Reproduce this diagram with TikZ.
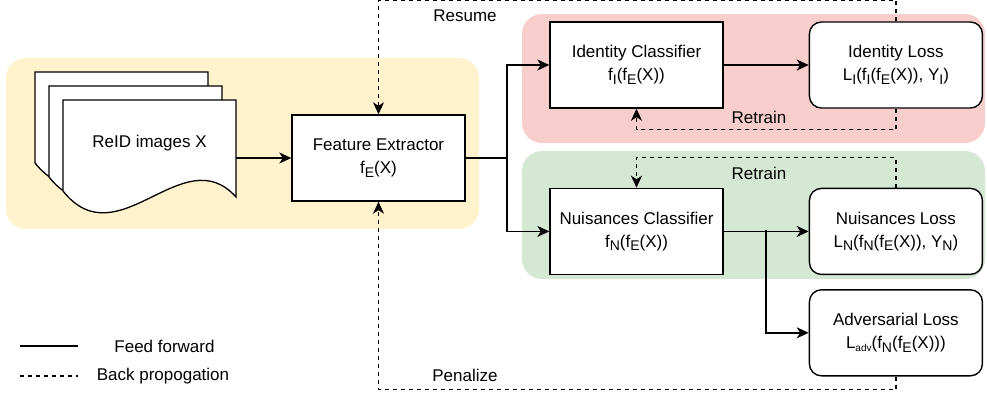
\documentclass[tikz,border=0pt]{standalone}
\usepackage{fontspec}
\setmainfont{Liberation Sans}
\usetikzlibrary{positioning,arrows.meta}

\definecolor{bgyellow}{HTML}{FFF2CC}
\definecolor{bgred}{HTML}{F8CECC}
\definecolor{bggreen}{HTML}{D5E8D4}
\newcommand{\lsub}[1]{\raisebox{-3.5pt}{\fontsize{14}{14}\selectfont #1}}

\begin{document}
\begin{tikzpicture}[x=1pt,y=-1pt,
        font=\fontsize{17}{23}\selectfont,
        box/.style={draw,line width=1.4pt,fill=white,minimum width=173pt,minimum height=86pt,align=center,inner sep=0pt},
        lossbox/.style={box,rounded corners=12pt},
        page/.style={draw,line width=1.3pt,fill=white},
        fwd/.style={line width=1.4pt,-{Stealth[length=12pt,width=11pt,inset=3.5pt]}},
        back/.style={fwd,line width=1.3pt,dash pattern=on 4pt off 4pt}]
        \useasboundingbox (0,0) rectangle (987,394);

        % groups
        \fill[bgyellow,rounded corners=20pt] (6,58) rectangle (479,229);
        \fill[bgred,rounded corners=20pt] (522,14) rectangle (985,143);
        \fill[bggreen,rounded corners=20pt] (522,151) rectangle (985,279);

        % stack of images
        \foreach \d in {0,14,28}
            \draw[page,shift={(35+\d,72+\d)}] (0,0) -- (173,0) -- (173,97) .. controls (120,38) and (55,160) .. (0,91) -- cycle;
        \node (docs) [minimum width=173pt,minimum height=84pt,inner sep=0pt] at (149.5,143) {ReID images X};

        \node (fe) [box] at (378.5,158) {Feature Extractor\\f\lsub{E}(X)};
        \node (ic) [box] at (636.5,65) {Identity Classifier\\f\lsub{I}(f\lsub{E}(X))};
        \node (il) [lossbox,right=85pt of ic] {Identity Loss\\L\lsub{I}(f\lsub{I}(f\lsub{E}(X)), Y\lsub{I})};
        \node (nc) [box,below=79pt of ic] {Nuisances Classifier\\f\lsub{N}(f\lsub{E}(X))};
        \node (nl) [lossbox,right=85pt of nc] {Nuisances Loss\\L\lsub{N}(f\lsub{N}(f\lsub{E}(X)), Y\lsub{N})};
        \node (al) [lossbox,below=14pt of nl] {Adversarial Loss\\L\raisebox{-3pt}{\fontsize{10}{10}\selectfont adv}(f\lsub{N}(f\lsub{E}(X)))};

        % feed forward
        \coordinate (fork) at (507,158);
        \coordinate (branch) at (766,230);
        \draw[fwd] (docs.east |- fe) -- (fe);
        \draw[fwd] (fe.east) -- (fork) |- (ic);
        \draw[fwd] (fork) |- (nc);
        \draw[fwd] (ic) -- (il);
        \draw[fwd] (nc) -- (nl);
        \draw[fwd] (branch) |- (al);

        % back propagation
        \draw[back] (il.north) -- ++(0,-21) -| (fe.north);
        \draw[back] (il.south) -- ++(0,21) -| (ic.south);
        \draw[back] (nl.north) -- ++(0,-30) -| (nc.north);
        \draw[back] (al.south) -- ++(0,13) -| (fe.south);

        \node (resume) at (465,16) {Resume};
        \node (retraini) at (759,117) {Retrain};
        \node (retrainn) at (759,173) {Retrain};
        \node (penalize) at (465,375) {Penalize};

        % legend
        \coordinate (ffa) at (20,346);
        \coordinate (ffb) at (78,346);
        \coordinate (bpa) at (20,376);
        \coordinate (bpb) at (78,376);
        \draw[line width=1.2pt] (ffa) -- (ffb);
        \draw[line width=1.2pt,dash pattern=on 4pt off 4pt] (bpa) -- (bpb);
        \node (fftext) at (164.5,346) {Feed forward};
        \node (bptext) at (163,376) {Back propogation};
    \end{tikzpicture}
\end{document}
